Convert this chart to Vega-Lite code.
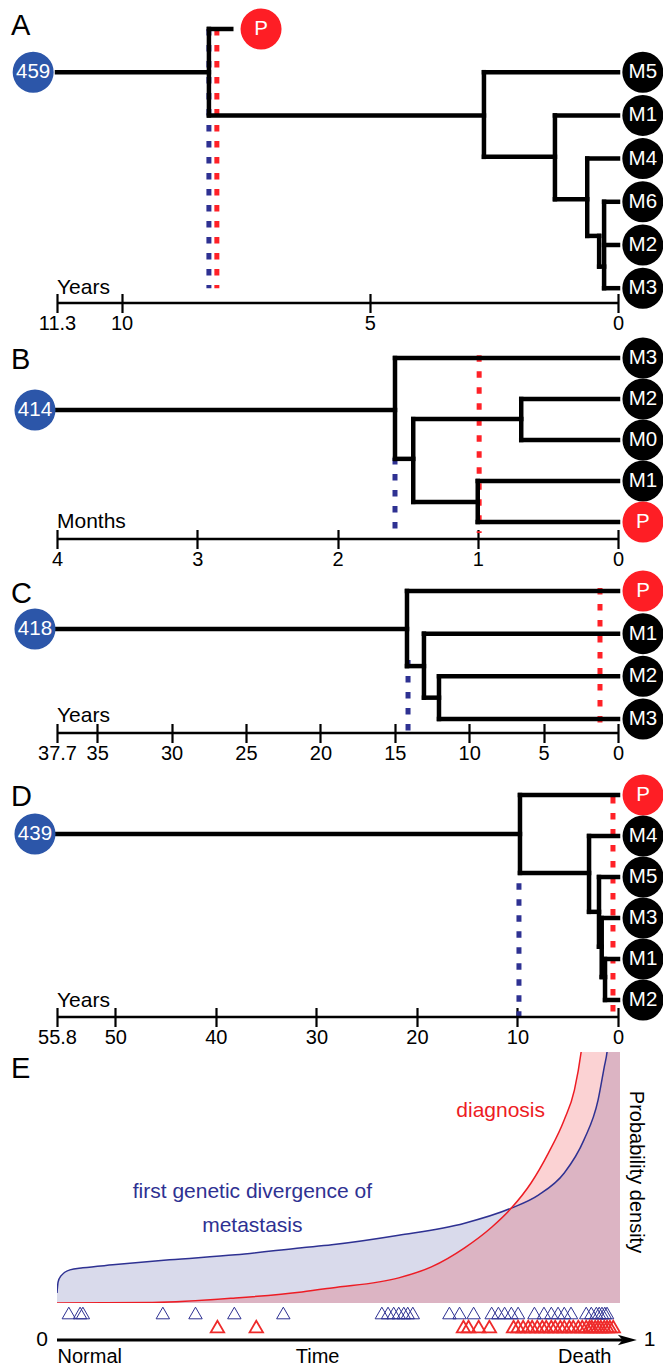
{
"$schema": "https://vega.github.io/schema/vega-lite/v6.json",
"autosize": {"type": "pad"},
"padding": {"left": 10, "top": 0, "right": 0, "bottom": 0},
"background": "white",
"config": {"view": {"stroke": null}, "font": "Liberation Sans", "text": {"font": "Liberation Sans"}},
"bounds": "flush",
"spacing": 35,
"datasets": {
"A": [
{"kind":"edge","x":11.3,"x2":8.24,"y":1,"y2":1},
{"kind":"edge","x":8.24,"x2":8.24,"y":0,"y2":2},
{"kind":"edge","x":8.24,"x2":7.79,"y":0,"y2":0},
{"kind":"edge","x":8.24,"x2":2.70,"y":2,"y2":2},
{"kind":"edge","x":2.70,"x2":2.70,"y":1,"y2":2.96},
{"kind":"edge","x":2.70,"x2":0,"y":1,"y2":1},
{"kind":"edge","x":2.70,"x2":1.27,"y":2.96,"y2":2.96},
{"kind":"edge","x":1.27,"x2":1.27,"y":2,"y2":3.94},
{"kind":"edge","x":1.27,"x2":0,"y":2,"y2":2},
{"kind":"edge","x":1.27,"x2":0.62,"y":3.94,"y2":3.94},
{"kind":"edge","x":0.62,"x2":0.62,"y":3,"y2":4.79},
{"kind":"edge","x":0.62,"x2":0,"y":3,"y2":3},
{"kind":"edge","x":0.62,"x2":0.38,"y":4.79,"y2":4.79},
{"kind":"edge","x":0.38,"x2":0.38,"y":4.79,"y2":5.5},
{"kind":"edge","x":0.38,"x2":0.28,"y":5.5,"y2":5.5},
{"kind":"edge","x":0.28,"x2":0.28,"y":4,"y2":6},
{"kind":"edge","x":0.28,"x2":0,"y":4,"y2":4},
{"kind":"edge","x":0.28,"x2":0,"y":5,"y2":5},
{"kind":"edge","x":0.28,"x2":0,"y":6,"y2":6},
{"kind":"div","x":8.24,"x2":8.24,"y":0,"y2":6},
{"kind":"diag","x":8.08,"x2":8.08,"y":0,"y2":6},
{"kind":"axis","x":11.3,"x2":0,"y":6.343,"y2":6.343},
{"kind":"root","x":11.78,"y":1,"label":"459"},
{"kind":"primary","x":7.19,"y":0,"label":"P"},
{"kind":"met","x":-0.5,"y":1,"label":"M5"},
{"kind":"met","x":-0.5,"y":2,"label":"M1"},
{"kind":"met","x":-0.5,"y":3,"label":"M4"},
{"kind":"met","x":-0.5,"y":4,"label":"M6"},
{"kind":"met","x":-0.5,"y":5,"label":"M2"},
{"kind":"met","x":-0.5,"y":6,"label":"M3"},
{"kind":"letter","x":12.225,"y":0.14,"label":"A"},
{"kind":"unit","x":11.3,"y":6.13,"label":"Years"}
],
"B": [
{"kind":"edge","x":4,"x2":1.59,"y":1.27,"y2":1.27},
{"kind":"edge","x":1.59,"x2":1.59,"y":0,"y2":2.46},
{"kind":"edge","x":1.59,"x2":0,"y":0,"y2":0},
{"kind":"edge","x":1.59,"x2":1.46,"y":2.46,"y2":2.46},
{"kind":"edge","x":1.46,"x2":1.46,"y":1.49,"y2":3.51},
{"kind":"edge","x":1.46,"x2":0.69,"y":1.49,"y2":1.49},
{"kind":"edge","x":0.69,"x2":0.69,"y":1,"y2":2},
{"kind":"edge","x":0.69,"x2":0,"y":1,"y2":1},
{"kind":"edge","x":0.69,"x2":0,"y":2,"y2":2},
{"kind":"edge","x":1.46,"x2":1.0,"y":3.51,"y2":3.51},
{"kind":"edge","x":1.0,"x2":1.0,"y":3,"y2":4},
{"kind":"edge","x":1.0,"x2":0,"y":3,"y2":3},
{"kind":"edge","x":1.0,"x2":0,"y":4,"y2":4},
{"kind":"div","x":1.59,"x2":1.59,"y":2.44,"y2":4.37},
{"kind":"diag","x":0.99,"x2":0.99,"y":-0.07,"y2":4.27},
{"kind":"axis","x":4,"x2":0,"y":4.415,"y2":4.415},
{"kind":"root","x":4.157,"y":1.27,"label":"414"},
{"kind":"met","x":-0.178,"y":0,"label":"M3"},
{"kind":"met","x":-0.178,"y":1,"label":"M2"},
{"kind":"met","x":-0.178,"y":2,"label":"M0"},
{"kind":"met","x":-0.178,"y":3,"label":"M1"},
{"kind":"primary","x":-0.178,"y":4,"label":"P"},
{"kind":"letter","x":4.328,"y":0.27,"label":"B"},
{"kind":"unit","x":4,"y":4.15,"label":"Months"}
],
"C": [
{"kind":"edge","x":37.7,"x2":14.18,"y":0.89,"y2":0.89},
{"kind":"edge","x":14.18,"x2":14.18,"y":0,"y2":1.76},
{"kind":"edge","x":14.18,"x2":0,"y":0,"y2":0},
{"kind":"edge","x":14.18,"x2":13.04,"y":1.76,"y2":1.76},
{"kind":"edge","x":13.04,"x2":13.04,"y":1,"y2":2.5},
{"kind":"edge","x":13.04,"x2":0,"y":1,"y2":1},
{"kind":"edge","x":13.04,"x2":12.03,"y":2.5,"y2":2.5},
{"kind":"edge","x":12.03,"x2":12.03,"y":2,"y2":3},
{"kind":"edge","x":12.03,"x2":0,"y":2,"y2":2},
{"kind":"edge","x":12.03,"x2":0,"y":3,"y2":3},
{"kind":"div","x":14.11,"x2":14.11,"y":1.62,"y2":3.33},
{"kind":"diag","x":1.21,"x2":1.21,"y":-0.07,"y2":3.31},
{"kind":"axis","x":37.7,"x2":0,"y":3.328,"y2":3.328},
{"kind":"root","x":39.18,"y":0.89,"label":"418"},
{"kind":"primary","x":-1.68,"y":0,"label":"P"},
{"kind":"met","x":-1.68,"y":1,"label":"M1"},
{"kind":"met","x":-1.68,"y":2,"label":"M2"},
{"kind":"met","x":-1.68,"y":3,"label":"M3"},
{"kind":"letter","x":40.79,"y":0.28,"label":"C"},
{"kind":"unit","x":37.7,"y":3.07,"label":"Years"}
],
"D": [
{"kind":"edge","x":55.8,"x2":9.75,"y":0.95,"y2":0.95},
{"kind":"edge","x":9.75,"x2":9.75,"y":0,"y2":1.9},
{"kind":"edge","x":9.75,"x2":0,"y":0,"y2":0},
{"kind":"edge","x":9.75,"x2":2.88,"y":1.9,"y2":1.9},
{"kind":"edge","x":2.88,"x2":2.88,"y":1,"y2":2.85},
{"kind":"edge","x":2.88,"x2":0,"y":1,"y2":1},
{"kind":"edge","x":2.88,"x2":1.89,"y":2.85,"y2":2.85},
{"kind":"edge","x":1.89,"x2":1.89,"y":2,"y2":3.7},
{"kind":"edge","x":1.89,"x2":0,"y":2,"y2":2},
{"kind":"edge","x":1.89,"x2":1.62,"y":3.7,"y2":3.7},
{"kind":"edge","x":1.62,"x2":1.62,"y":3,"y2":4.44},
{"kind":"edge","x":1.62,"x2":0,"y":3,"y2":3},
{"kind":"edge","x":1.62,"x2":1.29,"y":4.44,"y2":4.44},
{"kind":"edge","x":1.29,"x2":1.29,"y":4,"y2":5},
{"kind":"edge","x":1.29,"x2":0,"y":4,"y2":4},
{"kind":"edge","x":1.29,"x2":0,"y":5,"y2":5},
{"kind":"div","x":9.85,"x2":9.85,"y":2.15,"y2":5.41},
{"kind":"diag","x":0.5,"x2":0.5,"y":0.05,"y2":5.41},
{"kind":"axis","x":55.8,"x2":0,"y":5.415,"y2":5.415},
{"kind":"root","x":57.99,"y":0.95,"label":"439"},
{"kind":"primary","x":-2.49,"y":0,"label":"P"},
{"kind":"met","x":-2.49,"y":1,"label":"M4"},
{"kind":"met","x":-2.49,"y":2,"label":"M5"},
{"kind":"met","x":-2.49,"y":3,"label":"M3"},
{"kind":"met","x":-2.49,"y":4,"label":"M1"},
{"kind":"met","x":-2.49,"y":5,"label":"M2"},
{"kind":"letter","x":60.37,"y":0.27,"label":"D"},
{"kind":"unit","x":55.8,"y":5.17,"label":"Years"}
],
"curves": [
{"series":"divergence","t":0.000,"d":0.20},
{"series":"divergence","t":0.002,"d":0.42},
{"series":"divergence","t":0.007,"d":0.54},
{"series":"divergence","t":0.023,"d":0.66},
{"series":"divergence","t":0.046,"d":0.70},
{"series":"divergence","t":0.099,"d":0.76},
{"series":"divergence","t":0.200,"d":0.86},
{"series":"divergence","t":0.317,"d":0.96},
{"series":"divergence","t":0.435,"d":1.10},
{"series":"divergence","t":0.488,"d":1.16},
{"series":"divergence","t":0.607,"d":1.35},
{"series":"divergence","t":0.724,"d":1.59},
{"series":"divergence","t":0.807,"d":1.89},
{"series":"divergence","t":0.855,"d":2.15},
{"series":"divergence","t":0.901,"d":2.59},
{"series":"divergence","t":0.936,"d":3.25},
{"series":"divergence","t":0.961,"d":4.04},
{"series":"divergence","t":0.972,"d":4.70},
{"series":"divergence","t":0.977,"d":5.00},
{"series":"divergence","t":0.983,"d":5.80},
{"series":"divergence","t":0.990,"d":7.00},
{"series":"divergence","t":1.000,"d":9.00},
{"series":"diagnosis","t":0.000,"d":0.00},
{"series":"diagnosis","t":0.170,"d":0.01},
{"series":"diagnosis","t":0.317,"d":0.10},
{"series":"diagnosis","t":0.435,"d":0.22},
{"series":"diagnosis","t":0.488,"d":0.30},
{"series":"diagnosis","t":0.607,"d":0.50},
{"series":"diagnosis","t":0.665,"d":0.72},
{"series":"diagnosis","t":0.724,"d":1.10},
{"series":"diagnosis","t":0.772,"d":1.51},
{"series":"diagnosis","t":0.807,"d":1.89},
{"series":"diagnosis","t":0.842,"d":2.39},
{"series":"diagnosis","t":0.873,"d":2.99},
{"series":"diagnosis","t":0.901,"d":3.65},
{"series":"diagnosis","t":0.919,"d":4.24},
{"series":"diagnosis","t":0.931,"d":5.00},
{"series":"diagnosis","t":0.940,"d":5.90},
{"series":"diagnosis","t":0.950,"d":7.20},
{"series":"diagnosis","t":0.970,"d":11.0},
{"series":"diagnosis","t":1.000,"d":20.0}
],
"Etext": [
{"kind":"div","t":0.347,"d":2.09,"label":"first genetic divergence of\nmetastasis"},
{"kind":"diag","t":0.788,"d":3.71,"label":"diagnosis"},
{"kind":"ylab","t":1.028,"d":2.61,"label":"Probability density"},
{"kind":"letter","t":-0.0817,"d":4.48,"label":"E"}
],
"rug": [
{"kind":"tri","series":"divergence","t":0.021},
{"kind":"tri","series":"divergence","t":0.041},
{"kind":"tri","series":"divergence","t":0.046},
{"kind":"tri","series":"divergence","t":0.188},
{"kind":"tri","series":"divergence","t":0.246},
{"kind":"tri","series":"divergence","t":0.315},
{"kind":"tri","series":"divergence","t":0.402},
{"kind":"tri","series":"divergence","t":0.577},
{"kind":"tri","series":"divergence","t":0.588},
{"kind":"tri","series":"divergence","t":0.598},
{"kind":"tri","series":"divergence","t":0.607},
{"kind":"tri","series":"divergence","t":0.616},
{"kind":"tri","series":"divergence","t":0.623},
{"kind":"tri","series":"divergence","t":0.632},
{"kind":"tri","series":"divergence","t":0.697},
{"kind":"tri","series":"divergence","t":0.715},
{"kind":"tri","series":"divergence","t":0.740},
{"kind":"tri","series":"divergence","t":0.772},
{"kind":"tri","series":"divergence","t":0.784},
{"kind":"tri","series":"divergence","t":0.795},
{"kind":"tri","series":"divergence","t":0.807},
{"kind":"tri","series":"divergence","t":0.819},
{"kind":"tri","series":"divergence","t":0.848},
{"kind":"tri","series":"divergence","t":0.865},
{"kind":"tri","series":"divergence","t":0.878},
{"kind":"tri","series":"divergence","t":0.890},
{"kind":"tri","series":"divergence","t":0.901},
{"kind":"tri","series":"divergence","t":0.913},
{"kind":"tri","series":"divergence","t":0.940},
{"kind":"tri","series":"divergence","t":0.949},
{"kind":"tri","series":"divergence","t":0.958},
{"kind":"tri","series":"divergence","t":0.963},
{"kind":"tri","series":"divergence","t":0.968},
{"kind":"tri","series":"divergence","t":0.973},
{"kind":"tri","series":"divergence","t":0.977},
{"kind":"tri","series":"diagnosis","t":0.285},
{"kind":"tri","series":"diagnosis","t":0.354},
{"kind":"tri","series":"diagnosis","t":0.722},
{"kind":"tri","series":"diagnosis","t":0.731},
{"kind":"tri","series":"diagnosis","t":0.749},
{"kind":"tri","series":"diagnosis","t":0.768},
{"kind":"tri","series":"diagnosis","t":0.811},
{"kind":"tri","series":"diagnosis","t":0.819},
{"kind":"tri","series":"diagnosis","t":0.828},
{"kind":"tri","series":"diagnosis","t":0.837},
{"kind":"tri","series":"diagnosis","t":0.844},
{"kind":"tri","series":"diagnosis","t":0.853},
{"kind":"tri","series":"diagnosis","t":0.862},
{"kind":"tri","series":"diagnosis","t":0.869},
{"kind":"tri","series":"diagnosis","t":0.878},
{"kind":"tri","series":"diagnosis","t":0.885},
{"kind":"tri","series":"diagnosis","t":0.894},
{"kind":"tri","series":"diagnosis","t":0.901},
{"kind":"tri","series":"diagnosis","t":0.910},
{"kind":"tri","series":"diagnosis","t":0.917},
{"kind":"tri","series":"diagnosis","t":0.926},
{"kind":"tri","series":"diagnosis","t":0.933},
{"kind":"tri","series":"diagnosis","t":0.940},
{"kind":"tri","series":"diagnosis","t":0.946},
{"kind":"tri","series":"diagnosis","t":0.950},
{"kind":"tri","series":"diagnosis","t":0.956},
{"kind":"tri","series":"diagnosis","t":0.961},
{"kind":"tri","series":"diagnosis","t":0.966},
{"kind":"tri","series":"diagnosis","t":0.972},
{"kind":"tri","series":"diagnosis","t":0.977},
{"kind":"tri","series":"diagnosis","t":0.982},
{"kind":"tri","series":"diagnosis","t":0.988},
{"kind":"shaft","series":"axis","t":0,"t2":1.005},
{"kind":"head","series":"axis","t":1.013},
{"kind":"end","series":"axis","t":-0.016,"label":"0"},
{"kind":"start","series":"axis","t":1.042,"label":"1"}
]
},
"vconcat": [
{
 "width": 561, "height": 303,
 "data": {"name": "A"},
 "encoding": {
  "x": {"field": "x", "type": "quantitative", "scale": {"domain": [0, 11.3], "reverse": true, "nice": false, "zero": false},
   "axis": {"values": [11.3, 10, 5, 0], "labelExpr": "datum.value + ''", "title": null, "domain": false, "grid": false, "tickSize": 19, "tickWidth": 2.2, "tickColor": "black", "offset": -9.5, "labelFontSize": 20, "labelColor": "black", "labelPadding": 1, "labelFlush": false, "labelOverlap": false, "labelFont": "Liberation Sans"}},
  "y": {"field": "y", "type": "quantitative", "scale": {"domain": [-0.671, 6.343], "reverse": true, "nice": false, "zero": false}, "axis": null}
 },
 "layer": [
  {"transform": [{"filter": "datum.kind == 'div'"}], "mark": {"type": "rule", "stroke": "#2E3192", "strokeWidth": 5, "strokeDash": [6.5, 9.5]}, "encoding": {"x2": {"field": "x2"}, "y2": {"field": "y2"}}},
  {"transform": [{"filter": "datum.kind == 'diag'"}], "mark": {"type": "rule", "stroke": "#FF2127", "strokeWidth": 5, "strokeDash": [6.5, 9.5]}, "encoding": {"x2": {"field": "x2"}, "y2": {"field": "y2"}}},
  {"transform": [{"filter": "datum.kind == 'axis'"}], "mark": {"type": "rule", "stroke": "black", "strokeWidth": 2.5}, "encoding": {"x2": {"field": "x2"}, "y2": {"field": "y2"}}},
  {"transform": [{"filter": "datum.kind == 'edge'"}], "mark": {"type": "rule", "stroke": "black", "strokeWidth": 4.5, "strokeCap": "square"}, "encoding": {"x2": {"field": "x2"}, "y2": {"field": "y2"}}},
  {"transform": [{"filter": "datum.kind == 'root' || datum.kind == 'primary' || datum.kind == 'met'"}], "mark": {"type": "point", "shape": "circle", "filled": true, "size": 1681, "opacity": 1, "strokeWidth": 0}, "encoding": {"color": {"field": "kind", "type": "nominal", "scale": {"domain": ["root", "primary", "met"], "range": ["#2C56A9", "#FE1E25", "#000000"]}, "legend": null}}},
  {"transform": [{"filter": "datum.kind == 'root' || datum.kind == 'primary' || datum.kind == 'met'"}], "mark": {"type": "text", "color": "white", "fontSize": 20.5, "align": "center", "baseline": "middle"}, "encoding": {"text": {"field": "label"}}},
  {"transform": [{"filter": "datum.kind == 'letter'"}], "mark": {"type": "text", "color": "black", "fontSize": 29, "align": "left", "baseline": "alphabetic"}, "encoding": {"text": {"field": "label"}}},
  {"transform": [{"filter": "datum.kind == 'unit'"}], "mark": {"type": "text", "color": "black", "fontSize": 21, "align": "left", "baseline": "alphabetic"}, "encoding": {"text": {"field": "label"}}}
 ]
},
{
 "width": 561, "height": 201,
 "data": {"name": "B"},
 "encoding": {
  "x": {"field": "x", "type": "quantitative", "scale": {"domain": [0, 4], "reverse": true, "nice": false, "zero": false},
   "axis": {"values": [4, 3, 2, 1, 0], "labelExpr": "datum.value + ''", "title": null, "domain": false, "grid": false, "tickSize": 19, "tickWidth": 2.2, "tickColor": "black", "offset": -9.5, "labelFontSize": 20, "labelColor": "black", "labelPadding": 1, "labelFlush": false, "labelOverlap": false, "labelFont": "Liberation Sans"}},
  "y": {"field": "y", "type": "quantitative", "scale": {"domain": [-0.488, 4.415], "reverse": true, "nice": false, "zero": false}, "axis": null}
 },
 "layer": [
  {"transform": [{"filter": "datum.kind == 'div'"}], "mark": {"type": "rule", "stroke": "#2E3192", "strokeWidth": 5, "strokeDash": [6.5, 9.5]}, "encoding": {"x2": {"field": "x2"}, "y2": {"field": "y2"}}},
  {"transform": [{"filter": "datum.kind == 'diag'"}], "mark": {"type": "rule", "stroke": "#FF2127", "strokeWidth": 5, "strokeDash": [6.5, 9.5]}, "encoding": {"x2": {"field": "x2"}, "y2": {"field": "y2"}}},
  {"transform": [{"filter": "datum.kind == 'axis'"}], "mark": {"type": "rule", "stroke": "black", "strokeWidth": 2.5}, "encoding": {"x2": {"field": "x2"}, "y2": {"field": "y2"}}},
  {"transform": [{"filter": "datum.kind == 'edge'"}], "mark": {"type": "rule", "stroke": "black", "strokeWidth": 4.5, "strokeCap": "square"}, "encoding": {"x2": {"field": "x2"}, "y2": {"field": "y2"}}},
  {"transform": [{"filter": "datum.kind == 'root' || datum.kind == 'primary' || datum.kind == 'met'"}], "mark": {"type": "point", "shape": "circle", "filled": true, "size": 1681, "opacity": 1, "strokeWidth": 0}, "encoding": {"color": {"field": "kind", "type": "nominal", "scale": {"domain": ["root", "primary", "met"], "range": ["#2C56A9", "#FE1E25", "#000000"]}, "legend": null}}},
  {"transform": [{"filter": "datum.kind == 'root' || datum.kind == 'primary' || datum.kind == 'met'"}], "mark": {"type": "text", "color": "white", "fontSize": 20.5, "align": "center", "baseline": "middle"}, "encoding": {"text": {"field": "label"}}},
  {"transform": [{"filter": "datum.kind == 'letter'"}], "mark": {"type": "text", "color": "black", "fontSize": 29, "align": "left", "baseline": "alphabetic"}, "encoding": {"text": {"field": "label"}}},
  {"transform": [{"filter": "datum.kind == 'unit'"}], "mark": {"type": "text", "color": "black", "fontSize": 21, "align": "left", "baseline": "alphabetic"}, "encoding": {"text": {"field": "label"}}}
 ]
},
{
 "width": 561, "height": 159,
 "data": {"name": "C"},
 "encoding": {
  "x": {"field": "x", "type": "quantitative", "scale": {"domain": [0, 37.7], "reverse": true, "nice": false, "zero": false},
   "axis": {"values": [37.7, 35, 30, 25, 20, 15, 10, 5, 0], "labelExpr": "datum.value + ''", "title": null, "domain": false, "grid": false, "tickSize": 19, "tickWidth": 2.2, "tickColor": "black", "offset": -9.5, "labelFontSize": 20, "labelColor": "black", "labelPadding": 1, "labelFlush": false, "labelOverlap": false, "labelFont": "Liberation Sans"}},
  "y": {"field": "y", "type": "quantitative", "scale": {"domain": [-0.398, 3.328], "reverse": true, "nice": false, "zero": false}, "axis": null}
 },
 "layer": [
  {"transform": [{"filter": "datum.kind == 'div'"}], "mark": {"type": "rule", "stroke": "#2E3192", "strokeWidth": 5, "strokeDash": [6.5, 9.5]}, "encoding": {"x2": {"field": "x2"}, "y2": {"field": "y2"}}},
  {"transform": [{"filter": "datum.kind == 'diag'"}], "mark": {"type": "rule", "stroke": "#FF2127", "strokeWidth": 5, "strokeDash": [6.5, 9.5]}, "encoding": {"x2": {"field": "x2"}, "y2": {"field": "y2"}}},
  {"transform": [{"filter": "datum.kind == 'axis'"}], "mark": {"type": "rule", "stroke": "black", "strokeWidth": 2.5}, "encoding": {"x2": {"field": "x2"}, "y2": {"field": "y2"}}},
  {"transform": [{"filter": "datum.kind == 'edge'"}], "mark": {"type": "rule", "stroke": "black", "strokeWidth": 4.5, "strokeCap": "square"}, "encoding": {"x2": {"field": "x2"}, "y2": {"field": "y2"}}},
  {"transform": [{"filter": "datum.kind == 'root' || datum.kind == 'primary' || datum.kind == 'met'"}], "mark": {"type": "point", "shape": "circle", "filled": true, "size": 1681, "opacity": 1, "strokeWidth": 0}, "encoding": {"color": {"field": "kind", "type": "nominal", "scale": {"domain": ["root", "primary", "met"], "range": ["#2C56A9", "#FE1E25", "#000000"]}, "legend": null}}},
  {"transform": [{"filter": "datum.kind == 'root' || datum.kind == 'primary' || datum.kind == 'met'"}], "mark": {"type": "text", "color": "white", "fontSize": 20.5, "align": "center", "baseline": "middle"}, "encoding": {"text": {"field": "label"}}},
  {"transform": [{"filter": "datum.kind == 'letter'"}], "mark": {"type": "text", "color": "black", "fontSize": 29, "align": "left", "baseline": "alphabetic"}, "encoding": {"text": {"field": "label"}}},
  {"transform": [{"filter": "datum.kind == 'unit'"}], "mark": {"type": "text", "color": "black", "fontSize": 21, "align": "left", "baseline": "alphabetic"}, "encoding": {"text": {"field": "label"}}}
 ]
},
{
 "width": 561, "height": 249,
 "data": {"name": "D"},
 "encoding": {
  "x": {"field": "x", "type": "quantitative", "scale": {"domain": [0, 55.8], "reverse": true, "nice": false, "zero": false},
   "axis": {"values": [55.8, 50, 40, 30, 20, 10, 0], "labelExpr": "datum.value + ''", "title": null, "domain": false, "grid": false, "tickSize": 19, "tickWidth": 2.2, "tickColor": "black", "offset": -9.5, "labelFontSize": 20, "labelColor": "black", "labelPadding": 1, "labelFlush": false, "labelOverlap": false, "labelFont": "Liberation Sans"}},
  "y": {"field": "y", "type": "quantitative", "scale": {"domain": [-0.659, 5.415], "reverse": true, "nice": false, "zero": false}, "axis": null}
 },
 "layer": [
  {"transform": [{"filter": "datum.kind == 'div'"}], "mark": {"type": "rule", "stroke": "#2E3192", "strokeWidth": 5, "strokeDash": [6.5, 9.5]}, "encoding": {"x2": {"field": "x2"}, "y2": {"field": "y2"}}},
  {"transform": [{"filter": "datum.kind == 'diag'"}], "mark": {"type": "rule", "stroke": "#FF2127", "strokeWidth": 5, "strokeDash": [6.5, 9.5]}, "encoding": {"x2": {"field": "x2"}, "y2": {"field": "y2"}}},
  {"transform": [{"filter": "datum.kind == 'axis'"}], "mark": {"type": "rule", "stroke": "black", "strokeWidth": 2.5}, "encoding": {"x2": {"field": "x2"}, "y2": {"field": "y2"}}},
  {"transform": [{"filter": "datum.kind == 'edge'"}], "mark": {"type": "rule", "stroke": "black", "strokeWidth": 4.5, "strokeCap": "square"}, "encoding": {"x2": {"field": "x2"}, "y2": {"field": "y2"}}},
  {"transform": [{"filter": "datum.kind == 'root' || datum.kind == 'primary' || datum.kind == 'met'"}], "mark": {"type": "point", "shape": "circle", "filled": true, "size": 1681, "opacity": 1, "strokeWidth": 0}, "encoding": {"color": {"field": "kind", "type": "nominal", "scale": {"domain": ["root", "primary", "met"], "range": ["#2C56A9", "#FE1E25", "#000000"]}, "legend": null}}},
  {"transform": [{"filter": "datum.kind == 'root' || datum.kind == 'primary' || datum.kind == 'met'"}], "mark": {"type": "text", "color": "white", "fontSize": 20.5, "align": "center", "baseline": "middle"}, "encoding": {"text": {"field": "label"}}},
  {"transform": [{"filter": "datum.kind == 'letter'"}], "mark": {"type": "text", "color": "black", "fontSize": 29, "align": "left", "baseline": "alphabetic"}, "encoding": {"text": {"field": "label"}}},
  {"transform": [{"filter": "datum.kind == 'unit'"}], "mark": {"type": "text", "color": "black", "fontSize": 21, "align": "left", "baseline": "alphabetic"}, "encoding": {"text": {"field": "label"}}}
 ]
},
{
 "spacing": 0,
 "bounds": "flush",
 "vconcat": [
  {
   "width": 563, "height": 251,
   "encoding": {
    "x": {"field": "t", "type": "quantitative", "scale": {"domain": [0, 1], "nice": false, "zero": false}, "axis": null},
    "y": {"field": "d", "type": "quantitative", "scale": {"domain": [0, 5], "nice": false, "zero": false}, "axis": null}
   },
   "layer": [
    {"data": {"name": "curves"}, "transform": [{"filter": "datum.series == 'divergence'"}], "mark": {"type": "area", "color": "#2E3192", "opacity": 0.18, "interpolate": "monotone", "clip": true}},
    {"data": {"name": "curves"}, "transform": [{"filter": "datum.series == 'diagnosis'"}], "mark": {"type": "area", "color": "#ED1C24", "opacity": 0.2, "interpolate": "monotone", "clip": true}},
    {"data": {"name": "curves"}, "transform": [{"filter": "datum.series == 'divergence'"}], "mark": {"type": "line", "color": "#2E3192", "strokeWidth": 1.5, "interpolate": "monotone", "clip": true}},
    {"data": {"name": "curves"}, "transform": [{"filter": "datum.series == 'diagnosis'"}], "mark": {"type": "line", "color": "#ED1C24", "strokeWidth": 1.5, "interpolate": "monotone", "clip": true}},
    {"data": {"name": "Etext"}, "transform": [{"filter": "datum.kind == 'div'"}], "mark": {"type": "text", "color": "#2E3192", "fontSize": 21, "align": "center", "baseline": "alphabetic", "lineBreak": "\n", "lineHeight": 34}, "encoding": {"text": {"field": "label"}}},
    {"data": {"name": "Etext"}, "transform": [{"filter": "datum.kind == 'diag'"}], "mark": {"type": "text", "color": "#ED1C24", "fontSize": 21, "align": "center", "baseline": "alphabetic"}, "encoding": {"text": {"field": "label"}}},
    {"data": {"name": "Etext"}, "transform": [{"filter": "datum.kind == 'ylab'"}], "mark": {"type": "text", "color": "black", "fontSize": 20, "align": "center", "baseline": "middle", "angle": 90}, "encoding": {"text": {"field": "label"}}},
    {"data": {"name": "Etext"}, "transform": [{"filter": "datum.kind == 'letter'"}], "mark": {"type": "text", "color": "black", "fontSize": 29, "align": "left", "baseline": "alphabetic"}, "encoding": {"text": {"field": "label"}}}
   ]
  },
  {
   "width": 563, "height": 37,
   "data": {"name": "rug"},
   "encoding": {
    "x": {"field": "t", "type": "quantitative", "scale": {"domain": [0, 1], "nice": false, "zero": false},
     "axis": {"values": [0, 0.462, 0.984], "labelExpr": "datum.value == 0 ? 'Normal' : (datum.value < 0.5 ? 'Time' : 'Death')", "title": null, "domain": false, "grid": false, "ticks": false, "tickSize": 0, "labelFontSize": 20, "labelColor": "black", "labelPadding": 6.5, "labelFlush": 10, "labelOverlap": false, "labelFont": "Liberation Sans"}},
    "y": {"field": "series", "type": "nominal", "scale": {"type": "point", "domain": ["divergence", "diagnosis", "axis"], "padding": 0.37, "align": 1}, "axis": null}
   },
   "layer": [
    {"transform": [{"filter": "datum.kind == 'shaft'"}], "mark": {"type": "rule", "color": "black", "strokeWidth": 3}, "encoding": {"x2": {"field": "t2"}}},
    {"transform": [{"filter": "datum.kind == 'head'"}], "mark": {"type": "point", "shape": "M-1,-0.55L1,0L-1,0.55L-0.5,0Z", "filled": true, "color": "black", "size": 361, "opacity": 1, "strokeWidth": 0}},
    {"transform": [{"filter": "datum.kind == 'tri' && datum.series == 'divergence'"}], "mark": {"type": "point", "shape": "triangle-up", "filled": false, "color": "#2E3192", "size": 180, "opacity": 1, "strokeWidth": 1}},
    {"transform": [{"filter": "datum.kind == 'tri' && datum.series == 'diagnosis'"}], "mark": {"type": "point", "shape": "triangle-up", "filled": false, "color": "#EE2A2A", "size": 180, "opacity": 1, "strokeWidth": 1.8}},
    {"transform": [{"filter": "datum.kind == 'end'"}], "mark": {"type": "text", "color": "black", "fontSize": 21, "align": "right", "baseline": "middle"}, "encoding": {"text": {"field": "label"}}},
    {"transform": [{"filter": "datum.kind == 'start'"}], "mark": {"type": "text", "color": "black", "fontSize": 21, "align": "left", "baseline": "middle"}, "encoding": {"text": {"field": "label"}}}
   ]
  }
 ]
}
]
}
